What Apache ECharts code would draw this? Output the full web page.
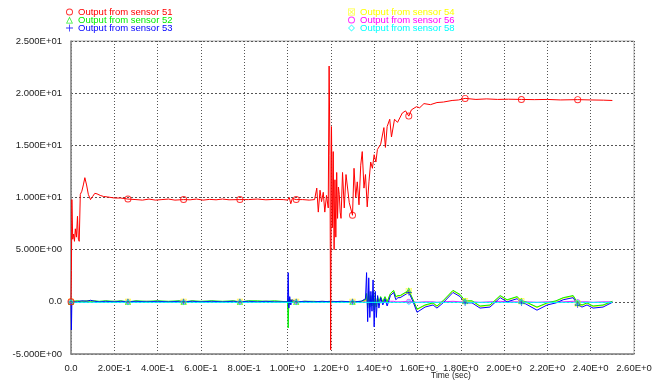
<!DOCTYPE html>
<html>
<head>
<meta charset="utf-8">
<script src="https://cdn.jsdelivr.net/npm/echarts@6/dist/echarts.min.js"></script>
<style>
  html, body { margin: 0; padding: 0; background: #fff; }
  #main { width: 659px; height: 380px; }
</style>
</head>
<body>
<div id="main"></div>
<script>
// tick labels
var xTickLabels = ['0.0', '2.00E-1', '4.00E-1', '6.00E-1', '8.00E-1', '1.00E+0', '1.20E+0',
    '1.40E+0', '1.60E+0', '1.80E+0', '2.00E+0', '2.20E+0', '2.40E+0', '2.60E+0'];
var yTickLabels = ['-5.000E+00', '0.0', '5.000E+00', '1.000E+01', '1.500E+01', '2.000E+01', '2.500E+01'];

// times where the symbols are drawn
var markerTimes = [0, 0.263, 0.52, 0.78, 1.04, 1.3, 1.56, 1.82, 2.08, 2.34];

// sensor 51 (red)
var t51 = [
    0, 0.002, 0.004, 0.008, 0.012, 0.016, 0.02, 0.025, 0.03, 0.034,
    0.038, 0.043, 0.05, 0.057, 0.064, 0.072, 0.08, 0.09, 0.1, 0.11,
    0.12, 0.135, 0.15, 0.17, 0.2, 0.23, 0.263, 0.3, 0.33, 0.36,
    0.39, 0.42, 0.45, 0.48, 0.52, 0.55, 0.58, 0.61, 0.64, 0.67,
    0.7, 0.73, 0.78, 0.82, 0.86, 0.9, 0.94, 0.98, 1.0, 1.008,
    1.015, 1.022, 1.03, 1.04, 1.07, 1.1, 1.125, 1.135, 1.142, 1.15,
    1.157, 1.165, 1.172, 1.18, 1.188, 1.192, 1.196, 1.199, 1.203, 1.207,
    1.211, 1.215, 1.219, 1.223, 1.227, 1.231, 1.235, 1.239, 1.243, 1.247,
    1.254, 1.262, 1.27, 1.285, 1.3, 1.307, 1.315, 1.322, 1.33, 1.338,
    1.345, 1.353, 1.36, 1.368, 1.376, 1.384, 1.392, 1.4, 1.408, 1.415,
    1.43, 1.445, 1.452, 1.46, 1.472, 1.48, 1.494, 1.508, 1.53, 1.545,
    1.56, 1.572, 1.595, 1.61, 1.63, 1.66, 1.69, 1.72, 1.76, 1.79,
    1.82, 1.87, 1.92, 1.97, 2.02, 2.08, 2.14, 2.2, 2.26, 2.34,
    2.4, 2.46, 2.5
];
var v51 = [
    0, 3, 9.8, 6.0, 6.5, 5.8, 7.0, 6.2, 8.2, 6.0,
    5.8, 10.3, 10.6, 11.2, 11.9, 11.2, 10.3, 9.8, 10.1, 10.4,
    10.35, 10.2, 10.1, 10.05, 9.95, 9.95, 9.85, 9.8, 9.75, 9.85,
    9.75, 9.8, 9.85, 9.75, 9.8, 9.78, 9.85, 9.75, 9.82, 9.78,
    9.85, 9.78, 9.8, 9.8, 9.85, 9.78, 9.82, 9.8, 9.75, 10.0,
    9.4, 9.9, 9.75, 9.8, 9.8, 9.75, 9.8, 10.9, 8.6, 10.7,
    9.6, 10.5, 8.6, 10.2, 9.0, 22.6, 14, -4.6, 16.8, 7.1,
    14.4, 5.0, 11.7, 6.2, 12.4, 8.0, 11.0, 10.3, 8.6, 8.0,
    12.4, 9.0, 12.2, 9.5, 8.3, 12.8, 10.0, 11.5, 9.3, 13.1,
    14.4, 10.9, 12.2, 9.1, 11.5, 13.4, 12.8, 14.1, 13.4, 14.6,
    15.1, 16.7, 14.8, 16.8, 17.5, 15.8, 17.5, 17.2, 18.1, 18.3,
    17.8, 18.4, 18.7, 18.6, 19.0, 18.9, 19.1, 19.15, 19.3, 19.35,
    19.5, 19.4, 19.45, 19.4, 19.42, 19.4, 19.38, 19.4, 19.35, 19.38,
    19.35, 19.33, 19.3
];

// sensors near zero share one time base
var tLow = [
    0, 0.002, 0.004, 0.01, 0.03, 0.05, 0.07, 0.09, 0.11, 0.13,
    0.16, 0.2, 0.23, 0.263, 0.3, 0.35, 0.4, 0.45, 0.5, 0.52,
    0.56, 0.6, 0.65, 0.7, 0.75, 0.78, 0.82, 0.86, 0.9, 0.94,
    0.97, 1.0, 1.003, 1.006, 1.01, 1.015, 1.02, 1.03, 1.04, 1.08,
    1.12, 1.16, 1.2, 1.25, 1.3, 1.34, 1.36, 1.365, 1.37, 1.375,
    1.38, 1.385, 1.39, 1.395, 1.4, 1.405, 1.41, 1.416, 1.422, 1.43,
    1.44, 1.45, 1.46, 1.475, 1.49, 1.5, 1.51, 1.52, 1.56, 1.58,
    1.598, 1.635, 1.672, 1.69, 1.718, 1.764, 1.797, 1.82, 1.852, 1.889,
    1.935, 1.982, 2.014, 2.06, 2.08, 2.1, 2.152, 2.199, 2.24, 2.273,
    2.319, 2.34, 2.36, 2.383, 2.411, 2.457, 2.5
];
var v52 = [
    0, 0, 0, 0.05, 0.1, 0.05, 0.1, 0.05, 0.1, 0.05,
    0.1, 0.05, 0.1, 0, 0.1, 0.05, 0.1, 0.05, 0.1, 0,
    0.1, 0.05, 0.1, 0.05, 0.1, 0, 0.1, 0.1, 0.05, 0.1,
    0.05, 0, -2.5, 0.3, -0.2, 0.2, 0, 0.1, 0, 0.05,
    0.05, 0, 0.05, 0, 0, 0.05, 0.2, 0.8, -0.6, 1.0,
    -0.5, 0.6, -0.4, 1.0, -0.8, 0.7, -0.5, 0.5, 0, 0.5,
    0, 0.5, 0, 0.8, 1.1, 0.5, 0.6, 0.6, 1.1, 0.2,
    -0.7, -0.3, -0.1, -0.4, 0.1, 1.1, 0.7, 0.1, 0.1, -0.4,
    -0.3, 0.6, 0.2, 0.5, 0.1, 0, -0.5, -0.1, 0.1, 0.4,
    0.6, -0.1, -0.3, -0.1, -0.4, -0.3, 0.05
];
var v53 = [
    0, -2.7, 0, 0.05, 0, 0.1, 0.05, 0.15, 0.05, 0,
    0.05, 0, 0.05, 0, 0.05, 0, 0.05, 0, 0.05, 0,
    0.05, 0, 0.05, 0, 0.05, 0, 0.05, 0, 0.05, 0,
    0, 0, 2.8, -0.6, 0.5, -0.3, 0.2, 0.1, 0, 0.05,
    0, 0.05, 0, 0.05, 0, 0.05, 0.3, 2.8, -1.9, 2.3,
    -1.5, 1.0, -0.9, 2.1, -2.4, 1.0, -1.5, 0.6, -0.6, 0.4,
    -0.3, 0.3, -0.4, 0.6, 0.9, 0.2, 0.4, 0.4, 0.9, 0.0,
    -1.0, -0.5, -0.3, -0.6, -0.1, 0.9, 0.5, -0.1, -0.1, -0.6,
    -0.5, 0.4, 0, 0.3, -0.1, -0.2, -0.8, -0.3, -0.1, 0.2,
    0.4, -0.3, -0.5, -0.3, -0.6, -0.5, -0.05
];
var v54 = [
    0, 0, 0, 0.05, 0.05, 0, 0.05, 0, 0.05, 0,
    0.05, 0, 0.05, 0, 0.05, 0, 0.05, 0, 0.05, 0,
    0.05, 0, 0.05, 0, 0.05, 0, 0.05, 0, 0.05, 0,
    0, 0, 0.4, -0.3, 0.2, 0.1, 0.2, 0, 0, 0.05,
    0, 0.05, 0, 0.05, 0, 0.05, 0.1, 0.5, -0.3, 0.6,
    -0.3, 0.4, -0.2, 0.6, -0.5, 0.4, -0.3, 0.3, 0, 0.3,
    0, 0.45, 0, 0.75, 1.05, 0.45, 0.55, 0.55, 1.05, 0.15,
    -0.75, -0.35, -0.15, -0.45, 0.05, 1.05, 0.65, 0.05, 0.05, -0.45,
    -0.35, 0.55, 0.15, 0.45, 0.05, -0.05, -0.55, -0.15, 0.05, 0.35,
    0.55, -0.15, -0.35, -0.15, -0.45, -0.35, 0
];
var v56 = [
    0, 0, 0, 0, 0.05, 0, 0, 0.05, 0, 0,
    0, 0.05, 0, 0, 0, 0.05, 0, 0, 0, 0,
    0.05, 0, 0, 0, 0.05, 0, 0, 0, 0.05, 0,
    0, 0, 0.2, -0.2, 0.1, 0, 0.05, 0, 0, 0,
    0, 0, 0.05, 0, 0, 0, 0.05, 0.3, -0.2, 0.3,
    -0.2, 0.2, -0.1, 0.3, -0.3, 0.2, -0.1, 0.1, 0, 0.1,
    0, 0.05, 0, 0.05, 0.05, 0, 0, 0, 0.05, 0,
    -0.05, 0, 0, -0.05, 0, 0.05, 0, 0, 0, -0.05,
    0, 0.05, 0, 0, 0, 0, -0.05, 0, 0, 0,
    0.05, 0, 0, 0, -0.05, 0, 0
];

// sensor 58 (cyan) stays flat
var t58 = [0, 0.263, 0.52, 0.78, 1.04, 1.3, 1.56, 1.82, 2.08, 2.34, 2.5];
var v58 = [-0.05, -0.05, -0.05, -0.05, -0.05, -0.05, -0.05, -0.05, -0.05, -0.05, -0.05];

var chartDom = document.getElementById('main');
var myChart = echarts.init(chartDom, null, {renderer: 'canvas'});

// hollow marker outlines (inner sub-path wound the other way)
var ringPath = 'path://M5,0A5,5 0 1,1 5,10A5,5 0 1,1 5,0ZM5,1.4A3.6,3.6 0 1,0 5,8.6A3.6,3.6 0 1,0 5,1.4Z';
var triPath = 'path://M5,0L10,10H0ZM5,2.6L1.7,9H8.3Z';
var diamondPath = 'path://M5,0L10,5L5,10L0,5ZM5,1.6L1.6,5L5,8.4L8.4,5Z';
var plusPath = 'path://M4.4,0H5.6V4.4H10V5.6H5.6V10H4.4V5.6H0V4.4H4.4Z';
var xBoxPath = 'path://M0,0H10V10H0ZM1,1V9H9V1ZM1.8,2.6L2.6,1.8L8.2,7.4L7.4,8.2ZM7.4,1.8L8.2,2.6L2.6,8.2L1.8,7.4Z';

function build(times, vals, sym) {
    return times.map(function (t, i) {
        return {
            value: [t, vals[i]],
            symbol: markerTimes.indexOf(t) >= 0 ? sym : 'none'
        };
    });
}

function lineSeries(name, color, times, vals, sym, size) {
    return {
        name: name,
        type: 'line',
        color: color,
        showSymbol: true,
        symbolSize: size,
        lineStyle: {color: color, width: 1},
        itemStyle: {color: color, opacity: 0.8},
        emphasis: {disabled: true},
        data: build(times, vals, sym)
    };
}

var legendText = {fontSize: 9.5, fontFamily: 'Liberation Sans', lineHeight: 8, padding: 0};

var option = {
    animation: false,
    backgroundColor: '#fff',
    textStyle: {fontFamily: 'Liberation Sans'},
    legend: [{
        orient: 'vertical',
        left: 66,
        top: 7,
        itemWidth: 7,
        itemHeight: 7,
        itemGap: -2,
        padding: 0,
        textStyle: legendText,
        data: [
            {name: 'Output from sensor 51', icon: ringPath, textStyle: {color: '#ff0000'}},
            {name: 'Output from sensor 52', icon: triPath, textStyle: {color: '#00ee00'}},
            {name: 'Output from sensor 53', icon: plusPath, textStyle: {color: '#0000ff'}}
        ]
    }, {
        orient: 'vertical',
        left: 348,
        top: 7,
        itemWidth: 7,
        itemHeight: 7,
        itemGap: -2,
        padding: 0,
        textStyle: legendText,
        data: [
            {name: 'Output from sensor 54', icon: xBoxPath, textStyle: {color: '#ffff00'}},
            {name: 'Output from sensor 56', icon: ringPath, textStyle: {color: '#ff00ff'}},
            {name: 'Output from sensor 58', icon: diamondPath, textStyle: {color: '#00ffff'}}
        ]
    }],
    grid: {
        left: 71,
        right: 25,
        top: 41,
        bottom: 26,
        show: true,
        borderColor: '#aaa',
        borderWidth: 1
    },
    xAxis: {
        type: 'value',
        min: 0,
        max: 2.6,
        interval: 0.2,
        axisLine: {show: true, onZero: false, lineStyle: {color: '#888', width: 1.5}},
        axisTick: {show: false},
        axisLabel: {
            color: '#222',
            fontSize: 9.5,
            margin: 9,
            hideOverlap: false,
            showMinLabel: true,
            showMaxLabel: true,
            formatter: function (v) {
                return xTickLabels[Math.round(v / 0.2)];
            }
        },
        splitLine: {show: true, lineStyle: {color: '#555', type: [1, 2], width: 1}}
    },
    yAxis: {
        type: 'value',
        min: -5,
        max: 25,
        interval: 5,
        axisLine: {show: true, onZero: false, lineStyle: {color: '#888', width: 1.5}},
        axisTick: {show: false},
        axisLabel: {
            color: '#222',
            fontSize: 9.5,
            margin: 9,
            showMinLabel: true,
            showMaxLabel: true,
            formatter: function (v) {
                return yTickLabels[Math.round((v + 5) / 5)];
            }
        },
        splitLine: {show: true, lineStyle: {color: '#555', type: [2, 2], width: 1}}
    },
    graphic: [{
        type: 'text',
        left: 431,
        top: 371,
        style: {text: 'Time (sec)', fontSize: 8.5, fill: '#222', fontFamily: 'Liberation Sans'}
    }],
    series: [
        lineSeries('Output from sensor 56', '#ff00ff', tLow, v56, ringPath, 5),
        lineSeries('Output from sensor 54', '#ffff00', tLow, v54, xBoxPath, 6),
        lineSeries('Output from sensor 52', '#00ee00', tLow, v52, triPath, 6),
        lineSeries('Output from sensor 53', '#0000ff', tLow, v53, plusPath, 6),
        lineSeries('Output from sensor 58', '#00ffff', t58, v58, diamondPath, 6),
        lineSeries('Output from sensor 51', '#ff0000', t51, v51, ringPath, 7)
    ]
};

option && myChart.setOption(option);
</script>
</body>
</html>
